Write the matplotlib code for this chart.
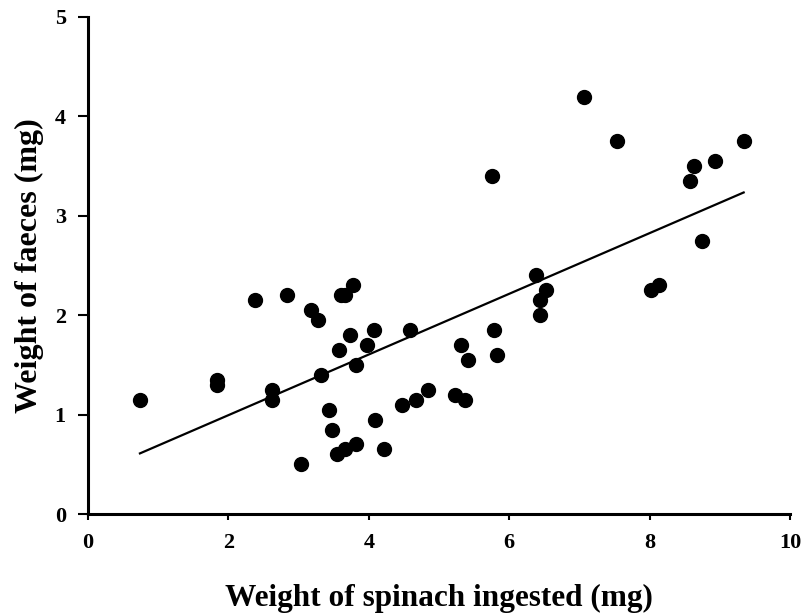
import numpy as np
import matplotlib
matplotlib.use("Agg")
import matplotlib.pyplot as plt

# spinach ingested (mg) vs faeces (mg)
spinach_mg = [0.74, 1.84, 1.84, 2.38, 2.62, 2.62, 2.83, 3.18, 3.28, 3.03,
              3.32, 3.43, 3.48, 3.55, 3.58, 3.60, 3.66, 3.77, 3.73, 3.66,
              3.82, 3.82, 3.97, 4.07, 4.09, 4.22, 4.47, 4.59, 4.67, 4.84,
              5.23, 5.31, 5.37, 5.41, 5.75, 5.78, 5.83, 6.38, 6.44, 6.44,
              6.52, 7.07, 7.54, 8.02, 8.13, 8.57, 8.63, 8.75, 8.93, 9.34]
faeces_mg = [1.15, 1.35, 1.30, 2.15, 1.25, 1.15, 2.20, 2.05, 1.95, 0.50,
             1.40, 1.05, 0.85, 0.60, 1.65, 2.20, 2.20, 2.30, 1.80, 0.65,
             1.50, 0.70, 1.70, 1.85, 0.95, 0.65, 1.10, 1.85, 1.15, 1.25,
             1.20, 1.70, 1.15, 1.55, 3.40, 1.85, 1.60, 2.40, 2.15, 2.00,
             2.25, 4.20, 3.75, 2.25, 2.30, 3.35, 3.50, 2.75, 3.55, 3.75]

x_ticks = [0, 2, 4, 6, 8, 10]
y_ticks = [0, 1, 2, 3, 4, 5]

plt.rcParams['font.family'] = ['Liberation Serif', 'DejaVu Serif']
plt.rcParams['font.weight'] = 'bold'

x = np.array(spinach_mg)
y = np.array(faeces_mg)
slope, intercept = np.polyfit(x, y, 1)
line_x = np.array([x.min(), x.max()])

figure = plt.figure(figsize=(8.07, 6.14), dpi=100)
axis = figure.add_axes([88 / 807, 100 / 614, 702 / 807, 497 / 614])
axis.plot(line_x, slope * line_x + intercept, color='black', linewidth=1.6, zorder=2)
axis.plot(x, y, 'o', color='black', markersize=10, zorder=3)

axis.set_xlim(0, 10)
axis.set_ylim(0, 5)
axis.set_xticks(x_ticks)
axis.set_yticks(y_ticks)
axis.spines['top'].set_visible(False)
axis.spines['right'].set_visible(False)
axis.spines['left'].set_linewidth(2.2)
axis.spines['bottom'].set_linewidth(2.2)
axis.tick_params(axis='x', direction='out', length=4, width=1.5, labelsize=16, pad=10)
axis.tick_params(axis='y', direction='out', length=7, width=1.5, labelsize=16, pad=9)
for label in axis.get_xticklabels() + axis.get_yticklabels():
    label.set_fontweight('bold')

axis.set_xlabel('Weight of spinach ingested (mg)', fontsize=22.5, fontweight='bold', labelpad=22)
axis.set_ylabel('Weight of faeces (mg)', fontsize=23, fontweight='bold', labelpad=8)

figure.savefig('out.png', dpi=100)
plt.close(figure)
